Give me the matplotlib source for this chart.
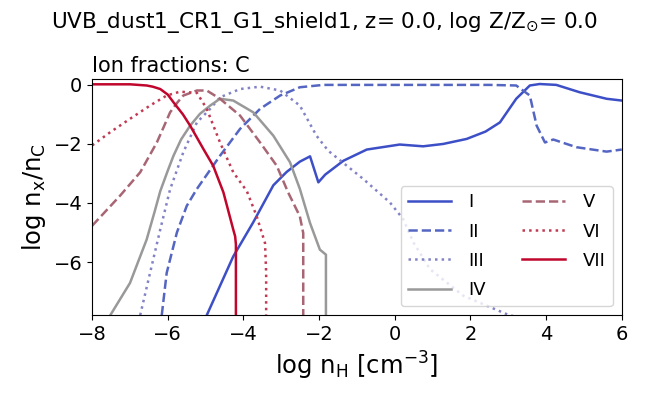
import matplotlib
matplotlib.use("Agg")
import matplotlib.pyplot as plt

x_I = [-4.97, -4.27, -3.74, -3.21, -2.86, -2.51, -2.24, -2.02, -1.84, -1.36, -0.74, 0.13, 0.75,
       1.28, 1.9, 2.4, 2.78, 3.21, 3.57, 3.83, 4.27, 4.89, 5.6, 6.0]
y_I = [-7.8, -5.81, -4.65, -3.4, -2.95, -2.6, -2.42, -3.3, -3.04, -2.57, -2.19, -2.02, -2.08,
       -2.0, -1.83, -1.58, -1.27, -0.47, -0.02, 0.03, 0.0, -0.25, -0.47, -0.53]

x_II = [-6.16, -6.03, -5.76, -5.5, -5.24, -4.62, -4.09, -3.56, -3.03, -2.51, -1.89, 0.0, 2.5, 3.21,
        3.57, 3.75, 3.97, 4.19, 4.8, 5.6, 6.0]
y_II = [-7.8, -6.37, -5.0, -4.1, -3.54, -2.4, -1.49, -0.81, -0.36, -0.08, 0.0, 0.0, 0.0, -0.02,
        -0.36, -1.38, -1.95, -1.85, -2.11, -2.26, -2.19]

x_III = [-6.73, -6.47, -6.2, -5.94, -5.59, -5.23, -4.88, -4.62, -4.09, -3.56, -3.03, -2.51, -2.07,
         -1.76, -0.83, -0.13, 0.22, 0.49, 0.93, 1.81, 2.95, 3.3]
y_III = [-7.8, -6.37, -4.9, -3.54, -2.28, -1.27, -0.81, -0.42, -0.14, -0.06, -0.19, -0.7, -1.72,
         -2.23, -3.19, -3.98, -4.54, -5.33, -6.24, -7.14, -7.76, -7.9]

x_IV = [-7.52, -7.0, -6.56, -6.35, -6.2, -6.0, -5.85, -5.65, -5.41, -5.15, -4.88, -4.62, -4.27,
        -3.74, -3.21, -2.77, -2.51, -2.24, -1.98, -1.82, -1.82]
y_IV = [-7.8, -6.71, -5.24, -4.3, -3.6, -2.9, -2.4, -1.85, -1.38, -0.98, -0.7, -0.47, -0.53,
        -0.93, -1.72, -2.62, -3.52, -4.68, -5.58, -5.75, -7.9]

x_V = [-8.0, -7.26, -6.73, -6.29, -6.1, -5.94, -5.75, -5.59, -5.23, -4.97, -4.62, -4.09, -3.56,
       -3.12, -2.82, -2.51, -2.42, -2.42]
y_V = [-4.77, -3.75, -2.96, -1.95, -1.4, -0.93, -0.6, -0.36, -0.19, -0.19, -0.47, -1.04, -1.95,
       -2.74, -3.64, -4.45, -5.02, -7.9]

x_VI = [-8.0, -7.52, -7.0, -6.47, -6.03, -5.68, -5.23, -4.97, -4.62, -4.27, -3.91, -3.65, -3.43,
        -3.4, -3.4]
y_VI = [-2.05, -1.6, -1.15, -0.7, -0.36, -0.23, -0.27, -0.81, -1.95, -2.96, -3.6, -4.45, -5.36,
        -6.37, -7.9]

x_VII = [-8.0, -7.0, -6.56, -6.4, -6.2, -6.0, -5.85, -5.6, -5.41, -5.06, -4.8, -4.53, -4.27, -4.22,
         -4.2, -4.2]
y_VII = [0.02, 0.02, -0.02, -0.06, -0.14, -0.33, -0.59, -1.0, -1.38, -2.17, -2.74, -3.64, -4.9,
         -5.13, -5.4, -7.9]

fig = plt.figure(figsize=(6.49, 3.93), dpi=100)
ax = fig.add_axes([0.142, 0.198, 0.816, 0.601])

ax.plot(x_I, y_I, '-', color='#3d4fc6', lw=1.8, label='I')
ax.plot(x_II, y_II, '--', color='#5566c2', lw=1.8, label='II')
ax.plot(x_III, y_III, ':', color='#8283c6', lw=1.8, label='III')
ax.plot(x_IV, y_IV, '-', color='#999999', lw=1.8, label='IV')
ax.plot(x_V, y_V, '--', color='#a86674', lw=1.8, label='V')
ax.plot(x_VI, y_VI, ':', color='#c03a52', lw=1.8, label='VI')
ax.plot(x_VII, y_VII, '-', color='#c0062c', lw=1.8, label='VII')

ax.set_xlim(-8, 6)
ax.set_ylim(-7.8, 0.2)
ax.set_xticks([-8, -6, -4, -2, 0, 2, 4, 6])
ax.set_yticks([0, -2, -4, -6])
ax.tick_params(labelsize=14)
ax.set_xlabel(r'log n$_{\rm H}$ [cm$^{-3}$]', fontsize=17.5)
ax.set_ylabel(r'log n$_{\rm x}$/n$_{\rm C}$', fontsize=17.5)
ax.set_title('Ion fractions: C', loc='left', fontsize=15, pad=5)
fig.suptitle(r'UVB_dust1_CR1_G1_shield1, z= 0.0, log Z/Z$_{\odot}$= 0.0', fontsize=15.5, y=0.975)
ax.legend(ncol=2, loc='lower right', fontsize=13, handlelength=2.4, handletextpad=0.95,
          labelspacing=0.62)

fig.savefig('out.png', dpi=100)
